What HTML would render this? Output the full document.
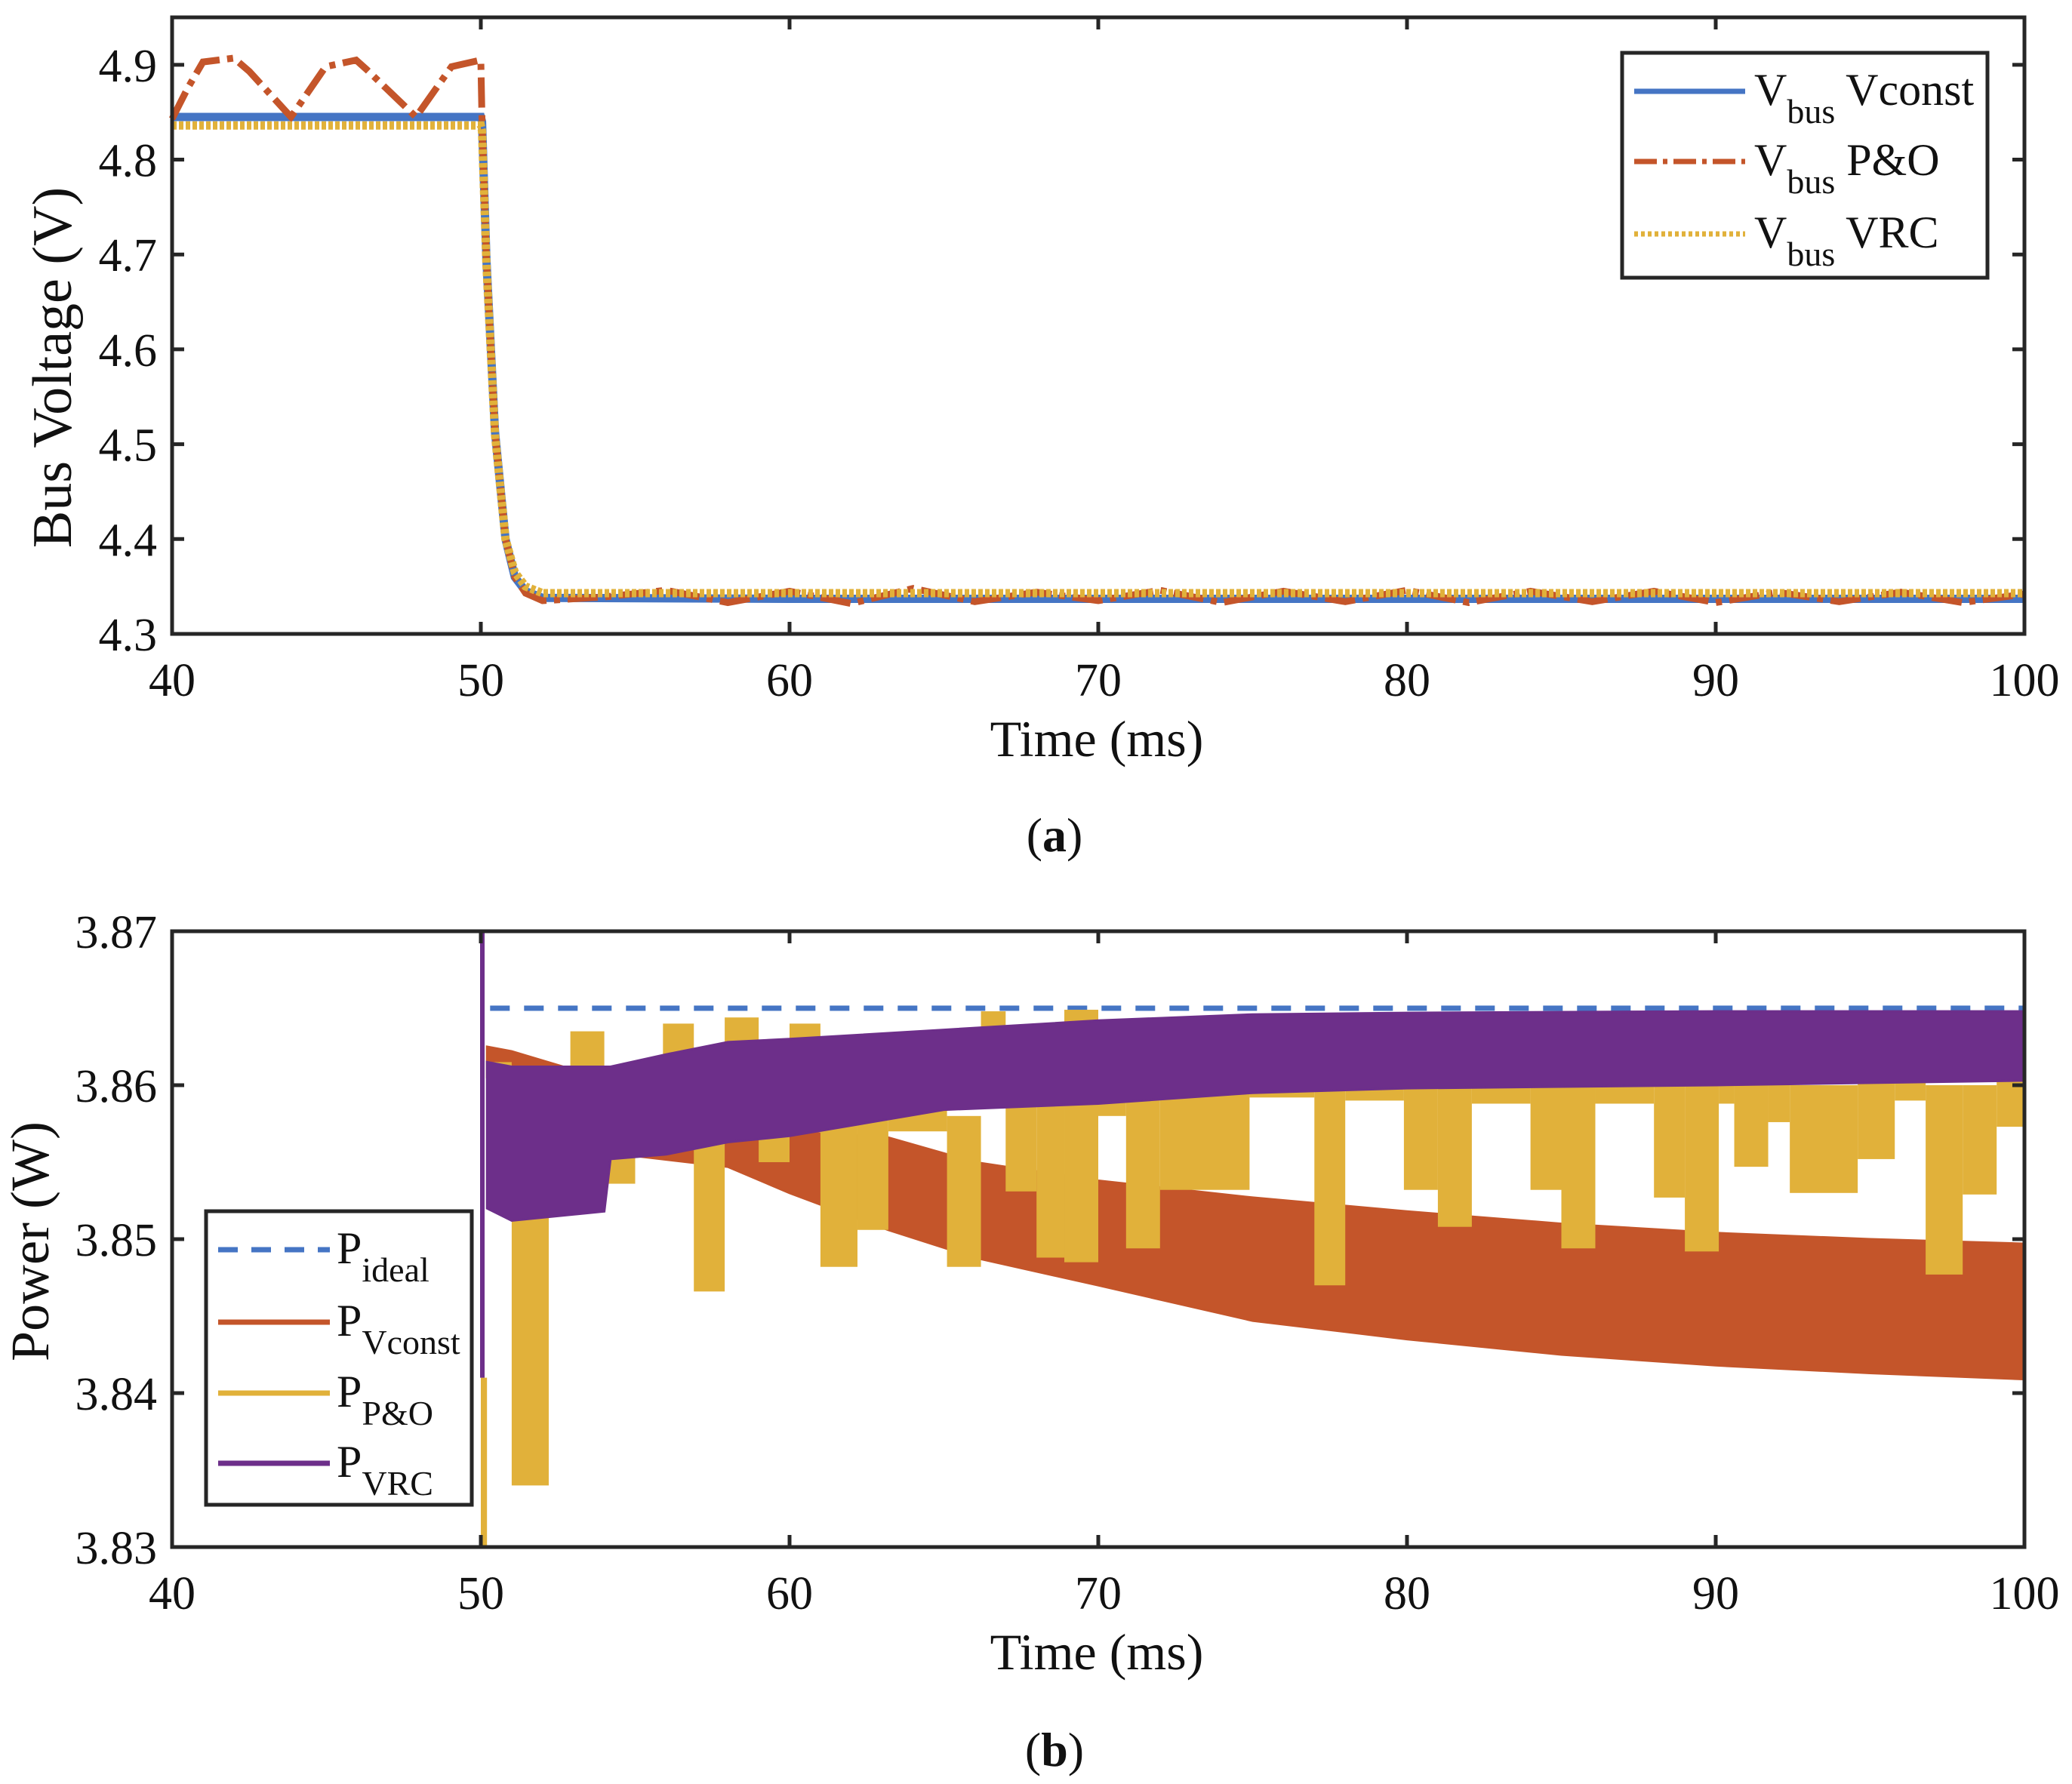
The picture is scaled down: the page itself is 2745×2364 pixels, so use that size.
<!DOCTYPE html>
<html><head><meta charset="utf-8"><style>
html,body{margin:0;padding:0;background:#fff;}
svg{display:block;font-family:"Liberation Serif",serif;}
</style></head>
<body>
<svg id="fig" width="2745" height="2364" viewBox="0 0 2745 2364" xmlns="http://www.w3.org/2000/svg"></svg>
<script>
// ---------- data: top chart (bus voltage) ----------
const xTicks = [40,50,60,70,80,90,100];
const vTicks = [4.3,4.4,4.5,4.6,4.7,4.8,4.9];
const vTickLabels = ["4.3","4.4","4.5","4.6","4.7","4.8","4.9"];
const vconstT = [40,50,50.04,50.18,50.46,50.8,51.1,51.45,52,60,70,80,90,100];
const vconstV = [4.845,4.845,4.84,4.695,4.513,4.40,4.36,4.345,4.338,4.337,4.337,4.337,4.337,4.337];
const vrcT = [40,50,50.04,50.18,50.46,50.8,51.1,51.45,52,60,70,80,90,100];
const vrcV = [4.836,4.836,4.83,4.69,4.51,4.40,4.365,4.35,4.343,4.343,4.343,4.343,4.343,4.343];
const poT = [40,40.5,41.0,42.0,42.5,43.85,44.97,45.96,46.3,47.9,49.05,50.0,50.04,50.18,50.46,50.8,51.1,51.45,52,
  54,56,58,60,62,64,66,68,70,72,74,76,78,80,82,84,86,88,90,92,94,96,98,100];
const poV = [4.843,4.875,4.903,4.907,4.893,4.845,4.898,4.905,4.895,4.845,4.898,4.905,4.84,4.695,4.513,4.40,4.36,4.343,4.335,
  4.339,4.346,4.333,4.345,4.332,4.348,4.334,4.344,4.335,4.346,4.333,4.345,4.334,4.346,4.333,4.345,4.334,4.345,4.333,4.344,4.334,4.344,4.333,4.342];

// ---------- data: bottom chart (power) ----------
const pTicks = [3.83,3.84,3.85,3.86,3.87];
const pTickLabels = ["3.83","3.84","3.85","3.86","3.87"];
const pIdealT = [50.3,100];
const pIdealV = [3.865,3.865];
const pvcT  = [50.2,51,53,55,58,60,63.2,66,70,75,80,85,90,95,100];
const pvcHi = [3.8625,3.8622,3.861,3.8595,3.8578,3.857,3.8566,3.855,3.8538,3.8527,3.8518,3.851,3.8504,3.850,3.8497];
const pvcLo = [3.8605,3.860,3.8575,3.8554,3.8547,3.853,3.8506,3.8488,3.847,3.8447,3.8435,3.8425,3.8418,3.8413,3.8409];
// P&O: piecewise-constant segments [start, end]
const ppoStart = [50.0,50.2,51.0,52.2,52.9,54.0,55.0,55.9,56.9,57.9,59.0,60.0,61.0,62.2,63.2,65.1,66.2,67.0,68.0,68.9,70.0,70.9,72.0,74.9,77.0,78.0,79.9,81.0,82.1,84.0,85.0,86.1,88.0,89.0,90.1,90.6,91.7,92.4,94.6,95.8,96.8,98.0,99.1];
const ppoEnd   = [50.2,51.0,52.2,52.9,54.0,55.0,55.9,56.9,57.9,59.0,60.0,61.0,62.2,63.2,65.1,66.2,67.0,68.0,68.9,70.0,70.9,72.0,74.9,77.0,78.0,79.9,81.0,82.1,84.0,85.0,86.1,88.0,89.0,90.1,90.6,91.7,92.4,94.6,95.8,96.8,98.0,99.1,100];
const ppoHi    = [3.841,3.8615,3.852,3.858,3.8635,3.858,3.860,3.8640,3.858,3.8644,3.860,3.8640,3.858,3.859,3.8615,3.858,3.8648,3.859,3.859,3.8649,3.8625,3.8605,3.861,3.861,3.860,3.861,3.860,3.860,3.861,3.860,3.860,3.861,3.860,3.860,3.861,3.860,3.861,3.860,3.861,3.861,3.860,3.860,3.861];
const ppoLo    = [3.830,3.856,3.834,3.8555,3.858,3.8536,3.857,3.858,3.8466,3.858,3.855,3.858,3.8482,3.8506,3.857,3.8482,3.8595,3.8531,3.8488,3.8485,3.858,3.8494,3.8532,3.8592,3.8470,3.8590,3.8532,3.8508,3.8588,3.8532,3.8494,3.8588,3.8527,3.8492,3.8588,3.8547,3.8576,3.8530,3.8552,3.8590,3.8477,3.8529,3.8573];
const pvrcT  = [50.2,51,54,54.2,56,58,60,65,70,75,80,90,100];
const pvrcHi = [3.8615,3.8612,3.8612,3.8612,3.862,3.8628,3.863,3.8636,3.8642,3.8646,3.8647,3.8648,3.8648];
const pvrcLo = [3.852,3.8512,3.8518,3.8552,3.8555,3.8563,3.8567,3.8584,3.8588,3.8595,3.8598,3.8600,3.8603];
const pvrcSpikeT = [50.05,50.05];
const pvrcSpikeV = [3.841,3.870];

// ---------- layout ----------
const NS = "http://www.w3.org/2000/svg";
const svg = document.getElementById('fig');
const L = 228, R = 2682;
const X = t => L + (t - 40) / 60 * (R - L);
const Ya = v => 840 - (v - 4.3) / 0.65 * (840 - 23);
const Yb = v => 2050 - (v - 3.83) / 0.04 * (2050 - 1234);
const C = {blue:"#4575c4", orange:"#c4552a", yellow:"#e1b13a", purple:"#6d2f8a", ax:"#262626"};

function mk(tag, attrs, parent) {
  const e = document.createElementNS(NS, tag);
  for (const k in attrs) e.setAttribute(k, attrs[k]);
  (parent || svg).appendChild(e);
  return e;
}
function linePts(ts, vs, Y) { return ts.map((t, i) => X(t).toFixed(1) + "," + Y(vs[i]).toFixed(1)).join(" "); }
function bandPts(ts, hi, lo, Y) {
  const a = ts.map((t, i) => X(t).toFixed(1) + "," + Y(hi[i]).toFixed(1));
  const b = ts.map((t, i) => X(t).toFixed(1) + "," + Y(lo[i]).toFixed(1)).reverse();
  return a.concat(b).join(" ");
}

function axes(top, bot, Y, yt, ytl, name) {
  const g = mk('g', {});
  
  
  xTicks.forEach((t, i) => {
    const x = X(t);
    const tk = mk('path', {d: `M${x},${bot} V${bot - 16} M${x},${top} V${top + 16}`, stroke: C.ax, 'stroke-width': 5}, g);
    
    
    const lb = mk('text', {x: x, y: bot + 82, 'font-size': 62, 'text-anchor': 'middle', fill: '#111'}, g);
    lb.textContent = String(t);
    
    
  });
  yt.forEach((v, i) => {
    const y = Y(v);
    const tk = mk('path', {d: `M${L},${y} H${L + 16} M${R},${y} H${R - 16}`, stroke: C.ax, 'stroke-width': 5}, g);
    
    
    const lb = mk('text', {x: L - 20, y: y + 22, 'font-size': 62, 'text-anchor': 'end', fill: '#111'}, g);
    lb.textContent = ytl[i];
    
    
  });
  const box = mk('rect', {x: L, y: top, width: R - L, height: bot - top, fill: 'none', stroke: C.ax, 'stroke-width': 5}, g);
  
  
}

// ---------- top chart ----------
const gA = mk('g', {});


let s;
s = mk('polyline', {points: linePts(vconstT, vconstV, Ya), fill: 'none', stroke: C.blue, 'stroke-width': 11}, gA);


s = mk('polyline', {points: linePts(poT, poV, Ya), fill: 'none', stroke: C.orange, 'stroke-width': 9, 'stroke-dasharray': '40 10 8 10'}, gA);


s = mk('polyline', {points: linePts(vrcT, vrcV, Ya), fill: 'none', stroke: C.yellow, 'stroke-width': 11, 'stroke-dasharray': '6 3'}, gA);


axes(23, 840, Ya, vTicks, vTickLabels, 'top');

// ---------- bottom chart ----------
const gB = mk('g', {});


s = mk('polyline', {points: linePts(pIdealT, pIdealV, Yb), fill: 'none', stroke: C.blue, 'stroke-width': 7, 'stroke-dasharray': '26 19'}, gB);


s = mk('polygon', {points: bandPts(pvcT, pvcHi, pvcLo, Yb), fill: C.orange, stroke: C.orange, 'stroke-width': 3}, gB);


ppoStart.forEach((t0, i) => {
  const x0 = X(t0), x1 = X(ppoEnd[i]);
  const r = mk('rect', {x: x0, y: Yb(ppoHi[i]), width: Math.max(3, x1 - x0), height: Math.max(3, Yb(ppoLo[i]) - Yb(ppoHi[i])), fill: C.yellow}, gB);
  
  
});
s = mk('polygon', {points: bandPts(pvrcT, pvrcHi, pvrcLo, Yb), fill: C.purple, stroke: C.purple, 'stroke-width': 3}, gB);


s = mk('polyline', {points: linePts(pvrcSpikeT, pvrcSpikeV, Yb), fill: 'none', stroke: C.purple, 'stroke-width': 6}, gB);


axes(1234, 2050, Yb, pTicks, pTickLabels, 'bottom');

// ---------- titles ----------
function txt(x, y, size, str, name, extra) {
  const e = mk('text', Object.assign({x: x, y: y, 'font-size': size, 'text-anchor': 'middle', fill: '#111'}, extra || {}));
  e.textContent = str;
  
  
  return e;
}
txt(1453, 1002, 68, 'Time (ms)', 'top-x-axis-title');
txt(1453, 2212, 68, 'Time (ms)', 'bottom-x-axis-title');
txt(0, 0, 74, 'Bus Voltage (V)', 'top-y-axis-title', {transform: 'translate(94,487) rotate(-90)'});
txt(0, 0, 72, 'Power (W)', 'bottom-y-axis-title', {transform: 'translate(64,1645) rotate(-90)'});
const ca = txt(1397, 1128, 64, '', 'panel-label-a');
ca.innerHTML = '(<tspan font-weight="bold">a</tspan>)';
const cb = txt(1397, 2340, 64, '', 'panel-label-b');
cb.innerHTML = '(<tspan font-weight="bold">b</tspan>)';

// ---------- legends ----------
function legend(x, y, w, h, entries, name) {
  const g = mk('g', {});
  
  
  const r = mk('rect', {x: x, y: y, width: w, height: h, fill: '#fff', stroke: C.ax, 'stroke-width': 5}, g);
  
  
  entries.forEach(en => {
    const ln = mk('line', Object.assign({x1: en.x1, x2: en.x2, y1: en.y, y2: en.y, stroke: en.c, 'stroke-width': 7}, en.dash ? {'stroke-dasharray': en.dash} : {}), g);
    
    
    const t = mk('text', {x: en.tx, y: en.y + 18, 'font-size': 60, fill: '#111'}, g);
    t.innerHTML = en.main + '<tspan font-size="46" dy="24">' + en.sub + '</tspan>' + (en.tail ? '<tspan dy="-24"> ' + en.tail + '</tspan>' : '');
    
    
  });
}
legend(2149, 70, 484, 298, [
  {x1: 2165, x2: 2312, y: 121, c: C.blue, tx: 2324, main: 'V', sub: 'bus', tail: 'Vconst'},
  {x1: 2165, x2: 2312, y: 214, c: C.orange, dash: '30 8 6 8', tx: 2324, main: 'V', sub: 'bus', tail: 'P&amp;O'},
  {x1: 2165, x2: 2312, y: 310, c: C.yellow, dash: '5 4', tx: 2324, main: 'V', sub: 'bus', tail: 'VRC'}
], 'top-legend');
legend(273, 1605, 352, 389, [
  {x1: 289, x2: 437, y: 1656, c: C.blue, dash: '26 18', tx: 446, main: 'P', sub: 'ideal'},
  {x1: 289, x2: 437, y: 1752, c: C.orange, tx: 446, main: 'P', sub: 'Vconst'},
  {x1: 289, x2: 437, y: 1846, c: C.yellow, tx: 446, main: 'P', sub: 'P&amp;O'},
  {x1: 289, x2: 437, y: 1939, c: C.purple, tx: 446, main: 'P', sub: 'VRC'}
], 'bottom-legend');
</script>
</body></html>
